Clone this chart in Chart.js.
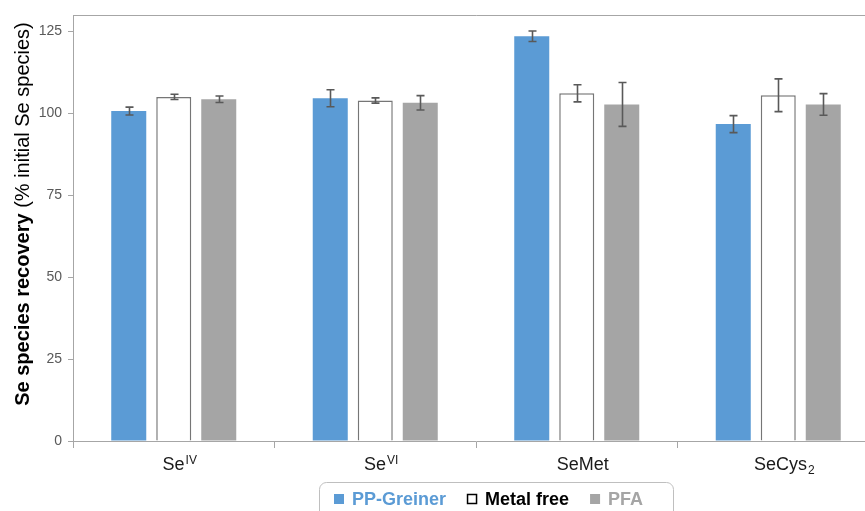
<!DOCTYPE html>
<html>
<head>
<meta charset="utf-8">
<style>
  html, body { margin: 0; padding: 0; background: #fff; overflow: hidden; }
  #wrap { width: 865px; height: 511px; overflow: hidden; }
  canvas { display: block; }
</style>
<script src="https://cdn.jsdelivr.net/npm/chart.js@4"></script>
</head>
<body>
<div id="wrap"><canvas id="chart" width="880" height="511"></canvas></div>
<script>
// Categories: "^" marks a superscript, "_" a subscript
const categories = ['Se^IV', 'Se^VI', 'SeMet', 'SeCys_2'];
const seriesNames = ['PP-Greiner', 'Metal free', 'PFA'];

// Recovery (% of initial Se species) and standard deviations
const ppGreiner    = [100.7, 104.6, 123.5, 96.7];
const ppGreinerErr = [1.2, 2.6, 1.6, 2.6];
const metalFree    = [105.0, 103.9, 106.1, 105.5];
const metalFreeErr = [0.8, 0.8, 2.6, 5.0];
const pfa          = [104.3, 103.2, 102.7, 102.7];
const pfaErr       = [1.0, 2.2, 6.7, 3.3];

const yTicks = [0, 25, 50, 75, 100, 125];
const yMax = 130;

const FONT = '"Liberation Sans", Arial, Helvetica, sans-serif';
const AXIS_GREY = '#a6a6a6';
const legendTextColors = ['#5b9bd5', '#000000', '#a5a5a5'];

// Error bars drawn over each bar, positioned by the value scale
const errorBars = {
  id: 'errorBars',
  afterDatasetsDraw(chart) {
    const { ctx } = chart;
    const y = chart.scales.y;
    chart.data.datasets.forEach((ds, di) => {
      const meta = chart.getDatasetMeta(di);
      meta.data.forEach((bar, i) => {
        const v = ds.data[i], e = ds.errors[i];
        const yt = y.getPixelForValue(v + e);
        const yb = y.getPixelForValue(v - e);
        const x = Math.round(bar.x) + 0.5;
        ctx.save();
        ctx.strokeStyle = '#595959';
        ctx.lineWidth = 1.6;
        ctx.beginPath();
        ctx.moveTo(x, yt); ctx.lineTo(x, yb);
        ctx.moveTo(x - 4, yt); ctx.lineTo(x + 4, yt);
        ctx.moveTo(x - 4, yb); ctx.lineTo(x + 4, yb);
        ctx.stroke();
        ctx.restore();
      });
    });
  }
};

// Top/right frame of the plot area
const frame = {
  id: 'frame',
  beforeDatasetsDraw(chart) {
    const { ctx, chartArea: a } = chart;
    ctx.save();
    ctx.strokeStyle = AXIS_GREY;
    ctx.lineWidth = 1;
    ctx.beginPath();
    ctx.moveTo(a.left, a.top + 0.5);
    ctx.lineTo(a.right + 0.5, a.top + 0.5);
    ctx.lineTo(a.right + 0.5, a.bottom);
    ctx.stroke();
    ctx.restore();
  }
};

// Category labels with super/subscripts
const categoryLabels = {
  id: 'categoryLabels',
  afterDraw(chart) {
    const { ctx } = chart;
    const x = chart.scales.x;
    const baseY = 470;
    chart.data.labels.forEach((lab, i) => {
      const m = lab.match(/^([^\^_]+)(?:([\^_])(.+))?$/);
      const base = m[1], kind = m[2], script = m[3] || '';
      ctx.save();
      ctx.fillStyle = '#1a1a1a';
      ctx.textBaseline = 'alphabetic';
      ctx.textAlign = 'left';
      ctx.font = '18px ' + FONT;
      const wb = ctx.measureText(base).width;
      ctx.font = '12px ' + FONT;
      const ws = script ? ctx.measureText(script).width + 1 : 0;
      const cx = x.getPixelForValue(i) + 6;
      const start = cx - (wb + ws) / 2;
      ctx.font = '18px ' + FONT;
      ctx.fillText(base, start, baseY);
      if (script) {
        ctx.font = '12px ' + FONT;
        const dy = kind === '^' ? -6 : 4;
        ctx.fillText(script, start + wb + 1, baseY + dy);
      }
      ctx.restore();
    });
  }
};

// Y-axis title: bold lead-in followed by regular text, rotated
const yTitle = {
  id: 'yTitle',
  afterDraw(chart) {
    const { ctx } = chart;
    const bold = 'Se species recovery';
    const reg = ' (% initial Se species)';
    ctx.save();
    ctx.translate(29, 214);
    ctx.rotate(-Math.PI / 2);
    ctx.fillStyle = '#000';
    ctx.textBaseline = 'alphabetic';
    ctx.textAlign = 'left';
    ctx.font = 'bold 20px ' + FONT;
    const wb = ctx.measureText(bold).width;
    ctx.font = '20px ' + FONT;
    const wr = ctx.measureText(reg).width;
    const start = -(wb + wr) / 2;
    ctx.font = 'bold 20px ' + FONT;
    ctx.fillText(bold, start, 0);
    ctx.font = '20px ' + FONT;
    ctx.fillText(reg, start + wb, 0);
    ctx.restore();
  }
};

// Boxed legend below the axis
const boxedLegend = {
  id: 'boxedLegend',
  afterDraw(chart) {
    const { ctx } = chart;
    const box = { x: 319.5, y: 482.5, w: 354, h: 50, r: 7 };
    ctx.save();
    ctx.strokeStyle = '#bfbfbf';
    ctx.lineWidth = 1;
    ctx.beginPath();
    ctx.roundRect(box.x, box.y, box.w, box.h, box.r);
    ctx.stroke();
    ctx.font = 'bold 18px ' + FONT;
    ctx.textBaseline = 'alphabetic';
    let xPos = 334;
    chart.data.datasets.forEach((ds, i) => {
      if (ds.legendOutline) {
        ctx.fillStyle = '#fff';
        ctx.fillRect(xPos + 0.5, 494.5, 9, 9);
        ctx.strokeStyle = '#000';
        ctx.lineWidth = 1.5;
        ctx.strokeRect(xPos + 0.5, 494.5, 9, 9);
      } else {
        ctx.fillStyle = ds.backgroundColor;
        ctx.fillRect(xPos, 494, 10, 10);
      }
      xPos += 18;
      ctx.fillStyle = legendTextColors[i];
      ctx.fillText(ds.label, xPos, 505);
      xPos += ctx.measureText(ds.label).width + 21;
    });
    ctx.restore();
  }
};

new Chart(document.getElementById('chart'), {
  type: 'bar',
  data: {
    labels: categories,
    datasets: [
      { label: seriesNames[0], data: ppGreiner, errors: ppGreinerErr,
        backgroundColor: '#5b9bd5', borderWidth: 0 },
      { label: seriesNames[1], data: metalFree, errors: metalFreeErr,
        backgroundColor: '#ffffff', borderColor: '#767676', borderWidth: 1.5,
        borderSkipped: 'bottom', legendOutline: true },
      { label: seriesNames[2], data: pfa, errors: pfaErr,
        backgroundColor: '#a5a5a5', borderWidth: 0 }
    ]
  },
  options: {
    responsive: false,
    animation: false,
    devicePixelRatio: 1,
    layout: { padding: { left: 0, right: 1, top: 15, bottom: 0 } },
    datasets: { bar: { categoryPercentage: 0.67, barPercentage: 0.778 } },
    plugins: { legend: { display: false }, tooltip: { enabled: false } },
    scales: {
      x: {
        grid: { display: true, offset: true, drawOnChartArea: false, drawTicks: true,
                tickLength: 7, color: AXIS_GREY },
        border: { display: true, color: AXIS_GREY, width: 1 },
        ticks: { color: 'rgba(0,0,0,0)', font: { size: 1 } },
        afterFit(scale) { scale.height = 70; }
      },
      y: {
        min: 0,
        max: yMax,
        afterBuildTicks(scale) { scale.ticks = yTicks.map(v => ({ value: v })); },
        grid: { display: true, drawOnChartArea: false, drawTicks: true,
                tickLength: 5, color: AXIS_GREY },
        border: { display: true, color: AXIS_GREY, width: 1 },
        ticks: { color: '#595959', padding: 6, font: { family: FONT, size: 14 } },
        afterFit(scale) { scale.width = 73; }
      }
    }
  },
  plugins: [frame, errorBars, categoryLabels, yTitle, boxedLegend]
});
</script>
</body>
</html>
